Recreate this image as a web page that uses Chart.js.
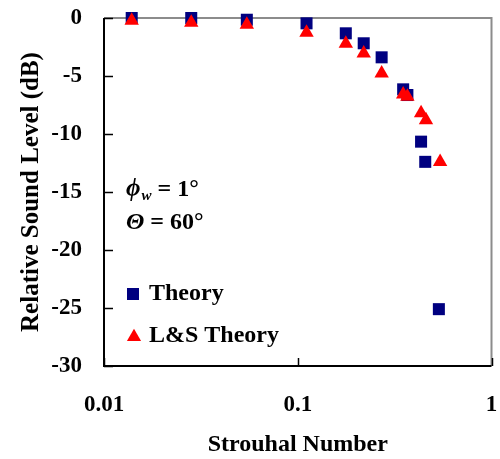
<!DOCTYPE html>
<html>
<head>
<meta charset="utf-8">
<script src="https://cdn.jsdelivr.net/npm/chart.js@4/dist/chart.umd.min.js"></script>
<style>
html,body{margin:0;padding:0;background:#fff;}
#wrap{width:500px;height:459px;}
</style>
</head>
<body>
<div id="wrap"><canvas id="c" width="500" height="459"></canvas></div>
<script>
// ---- data ----
const strouhalTheory = [0.0139, 0.0282, 0.0546, 0.111, 0.177, 0.219, 0.271, 0.350, 0.368, 0.433, 0.455, 0.535];
const levelTheory    = [0, 0, -0.15, -0.46, -1.32, -2.18, -3.39, -6.15, -6.64, -10.66, -12.4, -25.1];
const strouhalLS     = [0.0139, 0.0282, 0.0546, 0.111, 0.177, 0.219, 0.271, 0.350, 0.368, 0.433, 0.459, 0.543];
const levelLS        = [-0.23, -0.4, -0.57, -1.25, -2.2, -3.04, -4.77, -6.58, -6.78, -8.2, -8.8, -12.4];
const xTickValues = [0.01, 0.1, 1];
const xTickLabels = ['0.01', '0.1', '1'];
const seriesNames = ['Theory', 'L&S Theory'];
const xTitle = 'Strouhal Number';
const yTitle = 'Relative Sound Level (dB)';

const FONT = "'Liberation Serif', 'Times New Roman', serif";
const NAVY = '#000080';
const RED = '#FF0000';

const toPts = (xs, ys) => xs.map((x, i) => ({x: x, y: ys[i]}));

const framePlugin = {
  id: 'frame',
  beforeDatasetsDraw(chart) {
    const {ctx, chartArea: a} = chart;
    const xs = chart.scales.x, ys = chart.scales.y;
    ctx.save();
    ctx.strokeStyle = '#8c8c8c';
    ctx.lineWidth = 2;
    ctx.beginPath();
    ctx.moveTo(a.left, a.top); ctx.lineTo(a.right, a.top); ctx.lineTo(a.right, a.bottom);
    ctx.stroke();
    ctx.strokeStyle = '#000';
    ctx.lineWidth = 2;
    ctx.beginPath();
    ctx.moveTo(a.left, a.top); ctx.lineTo(a.left, a.bottom); ctx.lineTo(a.right, a.bottom);
    ctx.stroke();
    ctx.lineWidth = 1.5;
    ctx.beginPath();
    ys.ticks.forEach(t => {
      const py = Math.round(ys.getPixelForValue(t.value)) + 0.5;
      ctx.moveTo(a.left, py); ctx.lineTo(a.left + 9, py);
    });
    xs.ticks.forEach(t => {
      const px = Math.round(xs.getPixelForValue(t.value)) + 0.5;
      ctx.moveTo(px, a.bottom); ctx.lineTo(px, a.bottom - 8);
    });
    ctx.stroke();
    ctx.restore();
  },
  afterDatasetsDraw(chart) {
    const {ctx} = chart;
    ctx.save();
    ctx.fillStyle = '#000';
    ctx.textBaseline = 'middle';
    let x = 126, y = 190;
    ctx.font = "italic bold 25px " + FONT;
    ctx.textAlign = 'left';
    ctx.fillText('\u03D5', x, y);
    x += ctx.measureText('\u03D5').width;
    ctx.font = "italic bold 15px " + FONT;
    ctx.fillText('w', x + 1, y + 6);
    x += ctx.measureText('w').width + 1;
    ctx.font = "bold 24px " + FONT;
    ctx.fillText(' = 1\u00B0', x, y);

    x = 126; y = 223;
    ctx.font = "italic bold 24px " + FONT;
    ctx.fillText('\u0398', x, y);
    x += ctx.measureText('\u0398').width + 6;
    ctx.font = "bold 24px " + FONT;
    ctx.fillText('= 60\u00B0', x, y);

    const ds = chart.data.datasets;
    const entries = [{ds: ds[1], y: 294}, {ds: ds[0], y: 336}];
    entries.forEach(e => {
      const style = e.ds.pointStyle;
      ctx.fillStyle = e.ds.backgroundColor;
      ctx.beginPath();
      if (style === 'rect') {
        ctx.rect(127, e.y - 6, 12, 12);
      } else {
        const r = 8.2, cx = 134, cy = e.y + 1;
        ctx.moveTo(cx, cy - r);
        ctx.lineTo(cx + r * Math.sin(2 * Math.PI / 3), cy - r * Math.cos(2 * Math.PI / 3));
        ctx.lineTo(cx + r * Math.sin(4 * Math.PI / 3), cy - r * Math.cos(4 * Math.PI / 3));
        ctx.closePath();
      }
      ctx.fill();
      ctx.fillStyle = '#000';
      ctx.font = "bold 24px " + FONT;
      ctx.fillText(e.ds.label, 149, e.y);
    });
    ctx.restore();
  }
};

new Chart(document.getElementById('c'), {
  type: 'scatter',
  data: {
    datasets: [
      {
        label: seriesNames[1],
        data: toPts(strouhalLS, levelLS),
        pointStyle: 'triangle',
        pointRadius: 8.3,
        pointHoverRadius: 8.3,
        backgroundColor: RED,
        borderColor: RED,
        borderWidth: 0,
        order: 0,
        clip: false
      },
      {
        label: seriesNames[0],
        data: toPts(strouhalTheory, levelTheory),
        pointStyle: 'rect',
        pointRadius: 8.5,
        pointHoverRadius: 8.5,
        backgroundColor: NAVY,
        borderColor: NAVY,
        borderWidth: 0,
        order: 1,
        clip: false
      }
    ]
  },
  options: {
    responsive: false,
    animation: false,
    events: [],
    layout: {padding: {left: 0, top: 18, right: 6, bottom: 0}},
    plugins: {legend: {display: false}, tooltip: {enabled: false}},
    scales: {
      x: {
        type: 'logarithmic',
        min: 0.01, max: 1,
        afterBuildTicks(scale) { scale.ticks = xTickValues.map(v => ({value: v})); },
        afterFit(scale) { scale.height = 93; scale.paddingLeft = 0; scale.paddingRight = 0; },
        grid: {display: false, drawTicks: false},
        border: {display: false},
        ticks: {
          autoSkip: false, maxRotation: 0, padding: 25, color: '#000',
          font: {family: FONT, size: 23, weight: 'bold'},
          callback: (v) => { const i = xTickValues.indexOf(v); return i >= 0 ? xTickLabels[i] : ''; }
        },
        title: {display: true, text: xTitle, color: '#000', padding: {top: 0, bottom: 0},
          font: {family: FONT, size: 24, weight: 'bold'}}
      },
      y: {
        type: 'linear',
        min: -30, max: 0,
        afterFit(scale) { scale.width = 104; scale.paddingTop = 0; scale.paddingBottom = 0; },
        grid: {display: false, drawTicks: false},
        border: {display: false},
        ticks: {stepSize: 5, padding: 22, color: '#000',
          font: {family: FONT, size: 23, weight: 'bold'}},
        title: {display: true, text: yTitle, color: '#000', padding: {top: 17, bottom: 0},
          font: {family: FONT, size: 25, weight: 'bold'}}
      }
    }
  },
  plugins: [framePlugin]
});
</script>
</body>
</html>
